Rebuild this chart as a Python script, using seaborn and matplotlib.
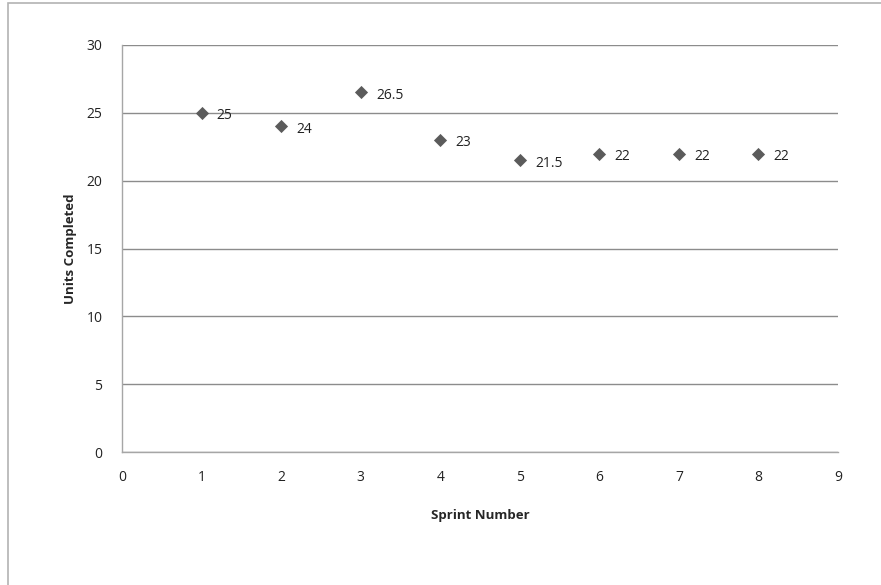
import matplotlib
matplotlib.use("Agg")
import matplotlib.pyplot as plt
import seaborn as sns
import pandas as pd
from matplotlib.patches import Rectangle

sprints = [1, 2, 3, 4, 5, 6, 7, 8]
units = [25, 24, 26.5, 23, 21.5, 22, 22, 22]
labels = ["25", "24", "26.5", "23", "21.5", "22", "22", "22"]

df = pd.DataFrame({"Sprint Number": sprints, "Units Completed": units})

sns.set_style("white")
plt.rcParams["font.family"] = ["Open Sans", "DejaVu Sans"]

W, H = 881, 585
fig = plt.figure(figsize=(W / 100, H / 100), dpi=100)
ax = fig.add_axes([122 / W, 1 - 452 / H, (838 - 122) / W, (452 - 45) / H])

# figure border (left and top visible)
fig.patches.append(Rectangle((8 / W, -0.1), 1.2, 1 - 3 / H + 0.1, transform=fig.transFigure,
                             fill=False, edgecolor="#b3b3b3", linewidth=1.2))

sns.scatterplot(data=df, x="Sprint Number", y="Units Completed", ax=ax, marker="D",
                color="#5b5b5b", s=45, edgecolor="#5b5b5b", linewidth=0, zorder=3, legend=False)

for x, y, t in zip(sprints, units, labels):
    ax.annotate(t, (x, y), xytext=(11, -2), textcoords="offset points",
                ha="left", va="center", fontsize=10, color="#222222")

ax.set_xlim(0, 9)
ax.set_ylim(0, 30)
ax.set_xticks(range(0, 10))
ax.set_yticks(range(0, 31, 5))
ax.yaxis.grid(True, color="#8c8c8c", linewidth=1)
ax.set_axisbelow(True)
for s in ["top", "right"]:
    ax.spines[s].set_visible(False)
for s in ["left", "bottom"]:
    ax.spines[s].set_color("#a6a6a6")
    ax.spines[s].set_linewidth(1)
ax.tick_params(axis="both", direction="out", length=5, width=1, color="#a6a6a6",
               labelsize=10, labelcolor="#222222", pad=8)
ax.tick_params(axis="y", pad=9)
ax.set_xlabel("Sprint Number", fontsize=9.5, fontweight="bold", labelpad=17)
ax.set_ylabel("Units Completed", fontsize=9.5, fontweight="bold", labelpad=7)

fig.savefig("out.png", dpi=100)
